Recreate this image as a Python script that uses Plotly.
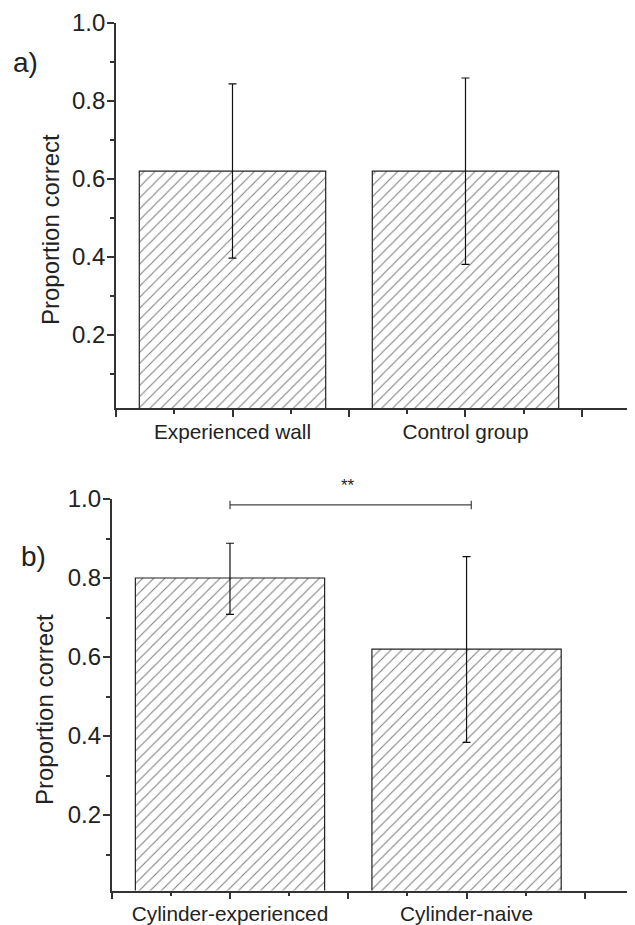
import plotly.graph_objects as go

# ---- data ----
cats_a = ["Experienced wall", "Control group"]
means_a = [0.62, 0.62]
upper_a = [0.844, 0.859]
lower_a = [0.397, 0.381]

cats_b = ["Cylinder-experienced", "Cylinder-naive"]
means_b = [0.80, 0.62]
upper_b = [0.888, 0.854]
lower_b = [0.708, 0.384]

sig_x = [1.0, 2.02]
sig_y = [0.985, 0.985]
sig_label = "**"

y_ticks = [0.2, 0.4, 0.6, 0.8, 1.0]
y_minor = [0.1, 0.3, 0.5, 0.7, 0.9]
x_major = [0.5, 1, 1.5, 2, 2.5]
x_minor = [0.75, 1.25, 1.75, 2.25, 2.75]
pos = [1, 2]

OFF = 8  # page body margin
W, H = 635 - OFF, 925 - OFF
FONT = "Liberation Sans, Arial, sans-serif"
INK = "#222222"
AX = "#333333"


def px_x(p):
    return (p - OFF) / W


def px_y(p):
    return 1 - (p - OFF) / H


def bar(means, upper, lower, xa, ya):
    return go.Bar(
        x=pos, y=means, width=0.8, xaxis=xa, yaxis=ya,
        marker=dict(color="white",
                    line=dict(color="#222222", width=1.2),
                    pattern=dict(shape="/", size=7.8, solidity=0.14,
                                 fgcolor="#000000", bgcolor="white")),
        error_y=dict(type="data", symmetric=False,
                     array=[u - m for u, m in zip(upper, means)],
                     arrayminus=[m - l for m, l in zip(means, lower)],
                     color="#111111", thickness=1.2, width=4),
        showlegend=False, hoverinfo="skip",
    )


fig = go.Figure()
fig.add_trace(bar(means_a, upper_a, lower_a, "x", "y"))
fig.add_trace(bar(means_b, upper_b, lower_b, "x2", "y2"))
fig.add_trace(go.Scatter(
    x=sig_x, y=sig_y, xaxis="x2", yaxis="y2", mode="lines+markers",
    line=dict(color="#444444", width=1.2),
    marker=dict(symbol="line-ns-open", size=6, line=dict(color="#444444", width=1.2)),
    showlegend=False, hoverinfo="skip", cliponaxis=False))

xcommon = dict(showline=True, linecolor=AX, linewidth=1.6, ticks="outside",
               ticklen=7, tickwidth=1.5, tickcolor=AX, showgrid=False, zeroline=False,
               tickmode="array", tickvals=x_major, ticklabelstandoff=-3,
               tickfont=dict(family=FONT, size=20.8, color=INK),
               minor=dict(tickmode="array", tickvals=x_minor, ticklen=4,
                          tickwidth=1.5, tickcolor=AX, ticks="outside"))
ycommon = dict(showline=True, linecolor=AX, linewidth=1.6, ticks="outside",
               ticklen=7, tickwidth=1.5, tickcolor=AX, showgrid=False, zeroline=False,
               tickmode="array", tickvals=y_ticks, ticktext=[f"{v:.1f}" for v in y_ticks],
               ticklabelstandoff=-3,
               tickfont=dict(family=FONT, size=24, color=INK),
               minor=dict(tickmode="array", tickvals=y_minor, ticklen=4,
                          tickwidth=1.5, tickcolor=AX, ticks="outside"))

ann_font = dict(family=FONT, color=INK)
fig.update_layout(
    width=W, height=H,
    margin=dict(l=0, r=0, t=0, b=0, pad=0, autoexpand=False),
    paper_bgcolor="white", plot_bgcolor="white",
    xaxis=dict(**xcommon, domain=[px_x(116), 1], range=[0.5, 2.7275],
               ticktext=["", cats_a[0], "", cats_a[1], ""], anchor="y"),
    yaxis=dict(**ycommon, domain=[px_y(408.3), px_y(23)], range=[0.012, 1.0], anchor="x"),
    xaxis2=dict(**xcommon, domain=[px_x(111.7), 1], range=[0.5, 2.712],
                ticktext=["", cats_b[0], "", cats_b[1], ""], anchor="y2"),
    yaxis2=dict(**ycommon, domain=[px_y(890.5), px_y(499)], range=[0.009, 1.0], anchor="x2"),
    annotations=[
        dict(text="Proportion correct", textangle=-90, x=px_x(50), y=px_y(230),
             xref="paper", yref="paper", xanchor="center", yanchor="middle",
             showarrow=False, font=dict(**ann_font, size=24)),
        dict(text="Proportion correct", textangle=-90, x=px_x(44), y=px_y(710),
             xref="paper", yref="paper", xanchor="center", yanchor="middle",
             showarrow=False, font=dict(**ann_font, size=24)),
        dict(text="a)", x=px_x(25), y=px_y(62), xref="paper", yref="paper",
             xanchor="center", yanchor="middle",
             showarrow=False, font=dict(**ann_font, size=28)),
        dict(text="b)", x=px_x(33), y=px_y(556), xref="paper", yref="paper",
             xanchor="center", yanchor="middle",
             showarrow=False, font=dict(**ann_font, size=28)),
        dict(text=sig_label, x=px_x(348), y=px_y(486), xref="paper", yref="paper",
             xanchor="center", yanchor="middle",
             showarrow=False, font=dict(**ann_font, size=17)),
    ],
)

fig.write_html("out.html")
